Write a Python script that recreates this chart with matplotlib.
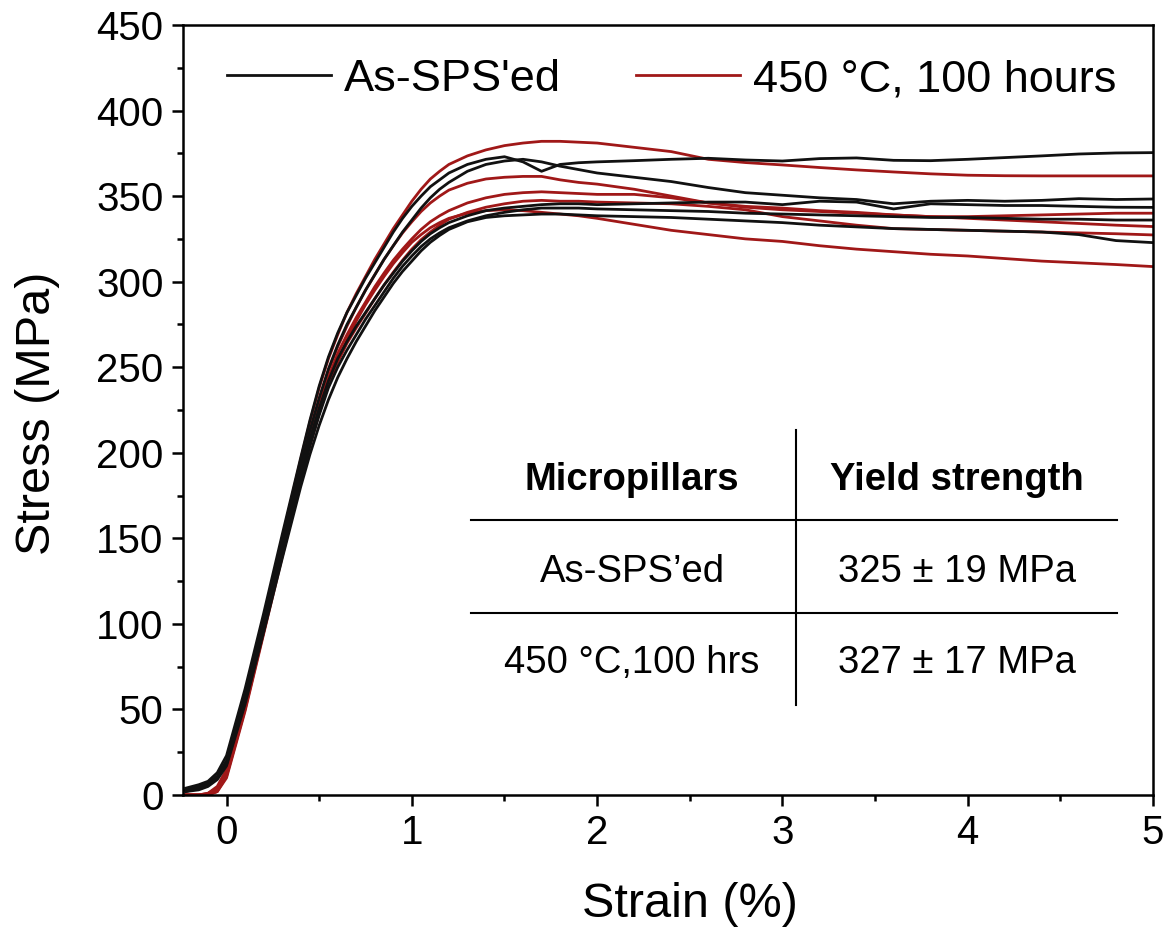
import matplotlib
matplotlib.use("Agg")
import matplotlib.pyplot as plt
from matplotlib.ticker import MultipleLocator

plt.rcParams['font.family'] = ['Liberation Sans', 'DejaVu Sans']

# Strain grid (%) shared by all micropillar curves
strain = [-0.22, -0.15, -0.1, -0.05, 0.0, 0.1, 0.2, 0.3,
          0.4, 0.45, 0.5, 0.55, 0.6, 0.65, 0.7, 0.75, 0.8, 0.85,
          0.9, 0.95, 1.0, 1.05, 1.1, 1.15, 1.2,
          1.3, 1.4, 1.5, 1.6, 1.7, 1.8, 1.9, 2.0,
          2.2, 2.4, 2.6, 2.8, 3.0, 3.2, 3.4, 3.6, 3.8, 4.0,
          4.2, 4.4, 4.6, 4.8, 5.0]

# Stress (MPa) - as-SPS'ed micropillars
as_sps_1 = [4, 6, 8, 13, 23, 62, 106, 152,
            197, 219, 239, 256, 270, 282, 292, 302, 311, 320,
            329, 337, 344, 350, 355.5, 359.5, 363.5,
            368.5, 371.5, 373, 370, 364.5, 368.5, 369.5, 370,
            370.7, 371.5, 372.1, 371.1, 370.5, 371.9, 372.3, 370.9, 370.7, 371.5,
            372.5, 373.5, 374.6, 375.2, 375.4]
as_sps_2 = [3, 5, 7, 11, 20, 58, 101, 147,
            192, 213, 232, 249, 263, 275, 285, 295, 304, 313,
            321, 329, 336, 343, 349, 354, 358,
            364.5, 368.5, 370.5, 371.5, 370, 367.5, 365.5, 363.5,
            361, 358.5, 355, 352, 350.5, 349, 348, 345.5, 347, 347.5,
            347, 347.5, 348.5, 348, 348.3]
as_sps_3 = [2, 4, 6, 10, 19, 56, 98, 143,
            187, 208, 226, 242, 255, 265, 274, 282, 290, 298,
            305, 312, 318, 323.5, 328, 331.5, 334.5,
            338.5, 341.5, 343, 344, 345, 345.5, 345.5, 345,
            345.5, 346, 346.5, 346.5, 345, 347, 346.5, 342.5, 345.5, 345,
            344.5, 344.5, 344, 343.5, 343.4]
as_sps_4 = [3, 5, 6, 10, 18, 55, 97, 141,
            184, 204, 222, 238, 250, 260, 269, 278, 286, 294,
            302, 309, 315, 320.5, 325, 328.5, 331.5,
            335.5, 338.5, 340.5, 342, 343, 343, 343, 342.5,
            342, 341.5, 341, 340, 339.5, 339, 338.5, 338, 337.5, 337.5,
            337, 336.5, 336.5, 336, 336]
as_sps_5 = [2, 3, 5, 9, 17, 53, 95, 138,
            180, 199, 216, 231, 244, 255, 265, 274, 283, 291,
            299, 306, 312, 318, 323, 327, 330.5,
            335, 337.5, 338.5, 339, 339.5, 339.5, 339, 338.5,
            338, 337.5, 336.5, 335.5, 334.5, 333, 332, 331, 330.5, 330,
            329.5, 329, 327.5, 324, 322.8]

# Stress (MPa) - annealed 450 °C, 100 hours
annealed_1 = [0, 0, 1, 5, 15, 56, 102, 150,
              196, 218, 238, 255, 269, 282, 293, 303, 313, 322,
              331, 339, 347, 354, 360, 364.5, 368.5,
              373.5, 377, 379.5, 381, 382, 382, 381.5, 381,
              378.5, 376, 371.5, 369.6, 368.2, 366.7, 365.3, 364.1, 363, 362.2,
              361.9, 361.8, 361.8, 361.8, 361.8]
annealed_2 = [0, 0, 1, 4, 13, 53, 99, 146,
              191, 212, 231, 248, 262, 274, 285, 295, 304, 313,
              321, 328.5, 335, 341, 346, 350, 353.5,
              357.5, 360, 361, 361.5, 361.5, 359.5, 358, 357,
              354, 350, 346, 343.5, 342, 341, 340, 339, 338, 337,
              336, 335, 334, 333, 332.2]
annealed_3 = [0, 0, 0, 3, 12, 51, 97, 143,
              188, 209, 228, 244, 258, 269, 279, 288, 297, 305,
              312.5, 319, 325, 330.5, 335, 338.5, 341.5,
              346, 349, 351, 352, 352.5, 352, 351.5, 351,
              351, 349, 346, 344, 343, 341.5, 340.5, 339, 338, 338,
              338.5, 339, 339.5, 340, 340]
annealed_4 = [0, 0, 0, 2, 11, 50, 95, 141,
              185, 206, 224, 240, 253, 264, 273, 281.5, 290, 298,
              305.5, 312.5, 319, 324.5, 329, 333, 336.5,
              340.5, 343.5, 345.5, 347, 347.5, 347, 347, 346.5,
              346, 345.5, 344, 342, 338, 335.5, 333, 331, 330.5, 330,
              329.5, 329, 328.5, 328, 327.3]
annealed_5 = [0, 0, 0, 2, 10, 49, 94, 139,
              183, 204, 223, 240, 254, 266, 277, 286.5, 295, 303,
              310.5, 317, 323, 327.5, 331.5, 334.5, 337,
              340, 341.5, 342, 341.5, 340.5, 339.5, 338.5, 337,
              333.5, 330, 327.5, 325, 323.5, 321, 319, 317.5, 316, 315,
              313.5, 312, 311, 310, 308.8]

as_sps_curves = [as_sps_1, as_sps_2, as_sps_3, as_sps_4, as_sps_5]
annealed_curves = [annealed_1, annealed_2, annealed_3, annealed_4, annealed_5]
series_labels = ["As-SPS'ed", "450 °C, 100 hours"]

# Inset summary table
table_header = ["Micropillars", "Yield strength"]
table_rows = [["As-SPS’ed", "325 ± 19 MPa"],
              ["450 °C,100 hrs", "327 ± 17 MPa"]]

BLACK = "#111111"
RED = "#a01818"

fig = plt.figure(figsize=(11.7, 9.32), dpi=100)
ax = fig.add_axes([0.1564, 0.1470, 0.8291, 0.8262])

for i, s in enumerate(annealed_curves):
    ax.plot(strain, s, color=RED, lw=2.0, zorder=2,
            label=series_labels[1] if i == 0 else None)
for i, s in enumerate(as_sps_curves):
    ax.plot(strain, s, color=BLACK, lw=2.0, zorder=2.1,
            label=series_labels[0] if i == 0 else None)

ax.set_xlim(-0.235, 5)
ax.set_ylim(0, 450)
ax.xaxis.set_major_locator(MultipleLocator(1))
ax.xaxis.set_minor_locator(MultipleLocator(0.5))
ax.yaxis.set_major_locator(MultipleLocator(50))
ax.yaxis.set_minor_locator(MultipleLocator(25))
ax.tick_params(which='both', direction='out', top=False, right=False,
               width=1.8, labelsize=29)
ax.tick_params(which='major', length=8, pad=6)
ax.tick_params(which='minor', length=4)
for sp in ax.spines.values():
    sp.set_linewidth(1.8)
    sp.set_zorder(3)

ax.set_xlabel("Strain (%)", fontsize=35)
ax.set_ylabel("Stress (MPa)", fontsize=35)
ax.xaxis.set_label_coords(0.523, -0.113)
ax.yaxis.set_label_coords(-0.127, 0.496)

handles, labels = ax.get_legend_handles_labels()
order = [labels.index(series_labels[0]), labels.index(series_labels[1])]
ax.legend([handles[k] for k in order], [labels[k] for k in order],
          loc='center left', bbox_to_anchor=(0.0454, 0.929), ncol=2,
          frameon=False, fontsize=32.5, borderpad=0, borderaxespad=0,
          handlelength=2.3, handletextpad=0.3, columnspacing=1.65)

# Table drawn in axes fraction coordinates
tr = ax.transAxes
ax.plot([0.632, 0.632], [0.117, 0.474], color='black', lw=1.5,
        transform=tr, clip_on=False)
for yl in (0.357, 0.236):
    ax.plot([0.297, 0.963], [yl, yl], color='black', lw=1.5,
            transform=tr, clip_on=False)
col_x = [0.463, 0.798]
for cx, txt in zip(col_x, table_header):
    ax.text(cx, 0.396, txt, transform=tr, ha='center', va='baseline',
            fontsize=27.5, fontweight='bold')
for ry, row in zip([0.2766, 0.1584], table_rows):
    for cx, txt in zip(col_x, row):
        ax.text(cx, ry, txt, transform=tr, ha='center', va='baseline',
                fontsize=27.5)

fig.savefig("out.png", dpi=100)
